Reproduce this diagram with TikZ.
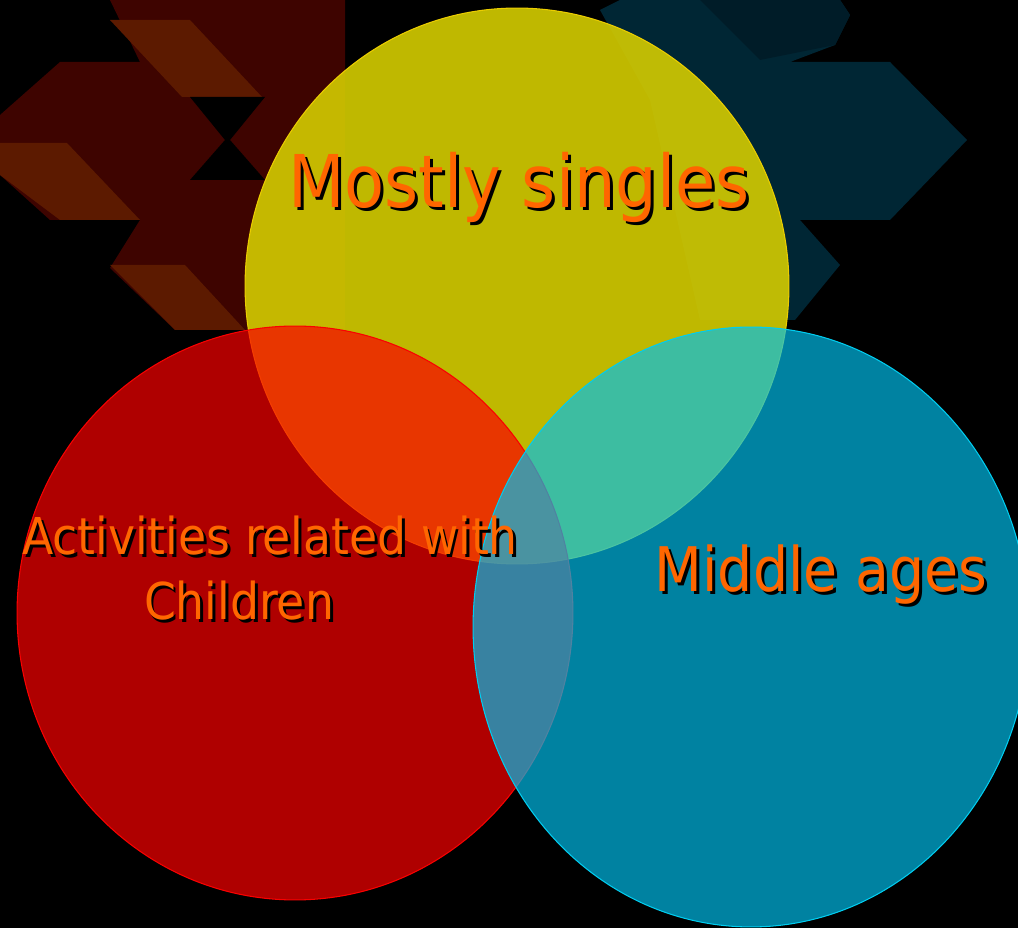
\documentclass[tikz,border=0pt]{standalone}
\usepackage{fontspec}
\setmainfont{DejaVu Sans Condensed}
\usetikzlibrary{shapes.geometric}

\definecolor{bgred}{RGB}{62,4,0}
\definecolor{bgbrown}{RGB}{92,26,0}
\definecolor{bgteal}{RGB}{0,38,52}
\definecolor{bgtealdark}{RGB}{0,28,40}
\definecolor{vennyellow}{RGB}{212,204,0}
\definecolor{vennred}{RGB}{250,0,0}
\definecolor{venncyan}{RGB}{0,192,238}
\definecolor{yellowedge}{RGB}{235,205,0}
\definecolor{cyanedge}{RGB}{0,205,240}
\definecolor{labelorange}{RGB}{255,102,0}

% orange text with a black drop shadow
\newcommand{\dropshadow}[1]{\rlap{\kern1.7pt\raisebox{-1.7pt}{\color{black}#1}}#1}

\tikzset{
  venn/.style={ellipse, draw, inner sep=0pt, line width=0.6pt},
  labeltxt/.style={text=labelorange, anchor=base, inner sep=0pt},
}

\begin{document}
\begin{tikzpicture}[x=0.02cm, y=-0.02cm]
    \useasboundingbox (0,0) rectangle (1018,928);
    \clip (0,0) rectangle (1018,928);
    \fill[black] (0,0) rectangle (1018,928);
    % backdrop, left
    \fill[bgred] (110,0) -- (345,0) -- (345,330) -- (175,330) -- (110,268) -- (140,220) -- (50,220) -- (0,175) -- (0,115) -- (60,62) -- (140,62) -- cycle;
    \fill[bgbrown] (110,20) -- (190,20) -- (262,97) -- (182,97) -- cycle;
    \fill[bgbrown] (0,143) -- (67,143) -- (140,220) -- (60,220) -- (0,175) -- cycle;
    \fill[bgbrown] (110,265) -- (185,265) -- (245,330) -- (175,330) -- cycle;
    \fill[black] (190,97) -- (265,97) -- (230,140) -- (265,180) -- (190,180) -- (225,140) -- cycle;
    % backdrop, right
    \fill[bgteal] (600,10) -- (620,0) -- (840,0) -- (850,15) -- (835,45) -- (790,62) -- (890,62) -- (967,140) -- (890,220) -- (800,220) -- (840,265) -- (795,320) -- (700,320) -- (650,100) -- cycle;
    \fill[bgtealdark] (700,0) -- (840,0) -- (850,15) -- (835,45) -- (760,60) -- cycle;
    % circles
    \node[venn, fill=vennyellow, fill opacity=0.9, draw=yellowedge, minimum width=10.88cm, minimum height=11.12cm] at (517,286) (CT) {};
    \node[venn, fill=vennred, fill opacity=0.7, draw=vennred, minimum width=11.12cm, minimum height=11.48cm] at (295,613) (CL) {};
    \node[venn, fill=venncyan, fill opacity=0.68, draw=cyanedge, minimum width=11.12cm, minimum height=12cm] at (751,627) (CR) {};
    % labels
    \node[labeltxt, font=\fontsize{41.4}{48}\selectfont] at (519,208) (singles) {\dropshadow{Mostly singles}};
    \node[labeltxt, font=\fontsize{28.9}{34}\selectfont] at (270,555) (act) {\dropshadow{Activities related with}};
    \node[labeltxt, font=\fontsize{28.9}{34}\selectfont] at (239,620) (child) {\dropshadow{Children}};
    \node[labeltxt, font=\fontsize{35}{42}\selectfont] at (821,592) (middle) {\dropshadow{Middle ages}};
\end{tikzpicture}
\end{document}
